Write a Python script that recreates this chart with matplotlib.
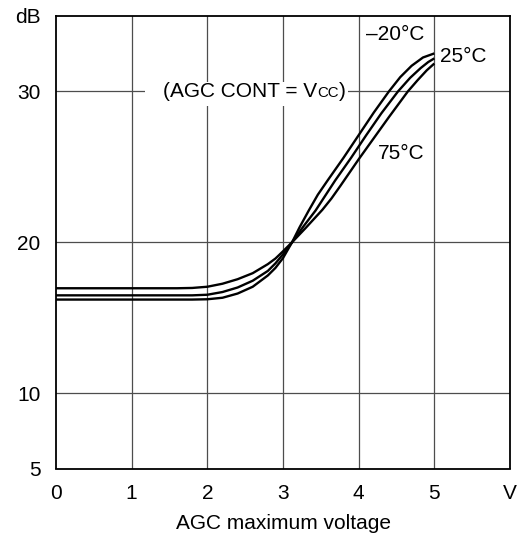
import numpy as np
import matplotlib
matplotlib.use("Agg")
import matplotlib.pyplot as plt
from matplotlib.patches import Rectangle
from matplotlib.offsetbox import TextArea, HPacker, AnnotationBbox

plt.rcParams['font.family'] = ['Liberation Sans', 'DejaVu Sans']

# gain vs AGC maximum voltage
v_m20 = [0, 1.0, 1.8, 2.0, 2.2, 2.4, 2.6, 2.8, 2.9, 3.0, 3.12, 3.22, 3.34, 3.46, 3.59, 3.8, 4.0, 4.2, 4.4, 4.55, 4.7, 4.85, 5.0]
db_m20 = [16.2, 16.2, 16.2, 16.22, 16.32, 16.6, 17.05, 17.8, 18.3, 18.95, 20.0, 21.0, 22.1, 23.15, 24.1, 25.6, 27.1, 28.6, 30.0, 30.95, 31.7, 32.25, 32.52]

v_25 = [0, 1.0, 1.8, 2.0, 2.2, 2.4, 2.6, 2.8, 2.9, 3.0, 3.12, 3.27, 3.43, 3.56, 3.69, 3.9, 4.1, 4.3, 4.52, 4.68, 4.82, 4.92, 5.0]
db_25 = [16.48, 16.48, 16.48, 16.52, 16.7, 17.0, 17.45, 18.1, 18.6, 19.2, 20.0, 21.05, 22.1, 23.1, 24.1, 25.6, 27.1, 28.55, 30.0, 30.9, 31.55, 31.95, 32.19]

v_75 = [0, 1.0, 1.6, 1.8, 2.0, 2.2, 2.4, 2.6, 2.8, 2.9, 3.0, 3.12, 3.3, 3.52, 3.64, 3.76, 4.0, 4.2, 4.4, 4.65, 4.78, 4.9, 5.0]
db_75 = [16.95, 16.95, 16.95, 16.97, 17.05, 17.25, 17.55, 17.95, 18.55, 18.92, 19.4, 20.0, 20.95, 22.15, 22.9, 23.75, 25.5, 26.9, 28.3, 30.0, 30.75, 31.4, 31.85]

xticks = [0, 1, 2, 3, 4, 5, 6]
xlabels = ['0', '1', '2', '3', '4', '5', 'V']
yticks = [5, 10, 20, 30, 35]
ylabels = ['5', '10', '20', '30', 'dB']

fs = 15

fig = plt.figure(figsize=(5.27, 5.41), dpi=100)
ax = fig.add_axes([56/527, 1 - 468.5/541, 454/527, 452.5/541])
ax.set_xlim(0, 6)
ax.set_ylim(5, 35)

# grid
for x in [1, 2, 3, 4, 5]:
    ax.axvline(x, color='#4d4d4d', lw=0.9, zorder=1)
for y in [10, 20, 30]:
    ax.axhline(y, color='#4d4d4d', lw=0.9, zorder=1)

for v, d in [(v_m20, db_m20), (v_25, db_25), (v_75, db_75)]:
    ax.plot(v, d, color='black', lw=1.7, zorder=3, solid_capstyle='butt')

ax.set_xticks(xticks)
ax.set_xticklabels(xlabels, fontsize=fs)
ax.set_yticks(yticks)
ax.set_yticklabels(ylabels, fontsize=fs)
ax.tick_params(length=0)
ax.tick_params(axis='x', pad=11)
ax.tick_params(axis='y', pad=11)
for s in ax.spines.values():
    s.set_linewidth(1.3)
ax.set_xlabel('AGC maximum voltage', fontsize=fs, labelpad=8)

# condition label on white box
ax.add_patch(Rectangle((1.18, 29.0), 2.68, 1.6, facecolor='white', edgecolor='none', zorder=2))
parts = HPacker(children=[TextArea('(AGC CONT = V', textprops=dict(fontsize=fs)),
                          TextArea('CC', textprops=dict(fontsize=fs*0.72)),
                          TextArea(')', textprops=dict(fontsize=fs))],
                align='baseline', pad=0, sep=0)
ab = AnnotationBbox(parts, (2.62, 30.0), frameon=False, box_alignment=(0.5, 0.5), zorder=4)
ax.add_artist(ab)

ax.text(4.48, 33.75, '–20°C', fontsize=fs, ha='center', va='center')
ax.text(5.07, 32.3, '25°C', fontsize=fs, ha='left', va='center')
ax.text(4.56, 25.9, '75°C', fontsize=fs, ha='center', va='center')

fig.savefig('out.png', dpi=100)
